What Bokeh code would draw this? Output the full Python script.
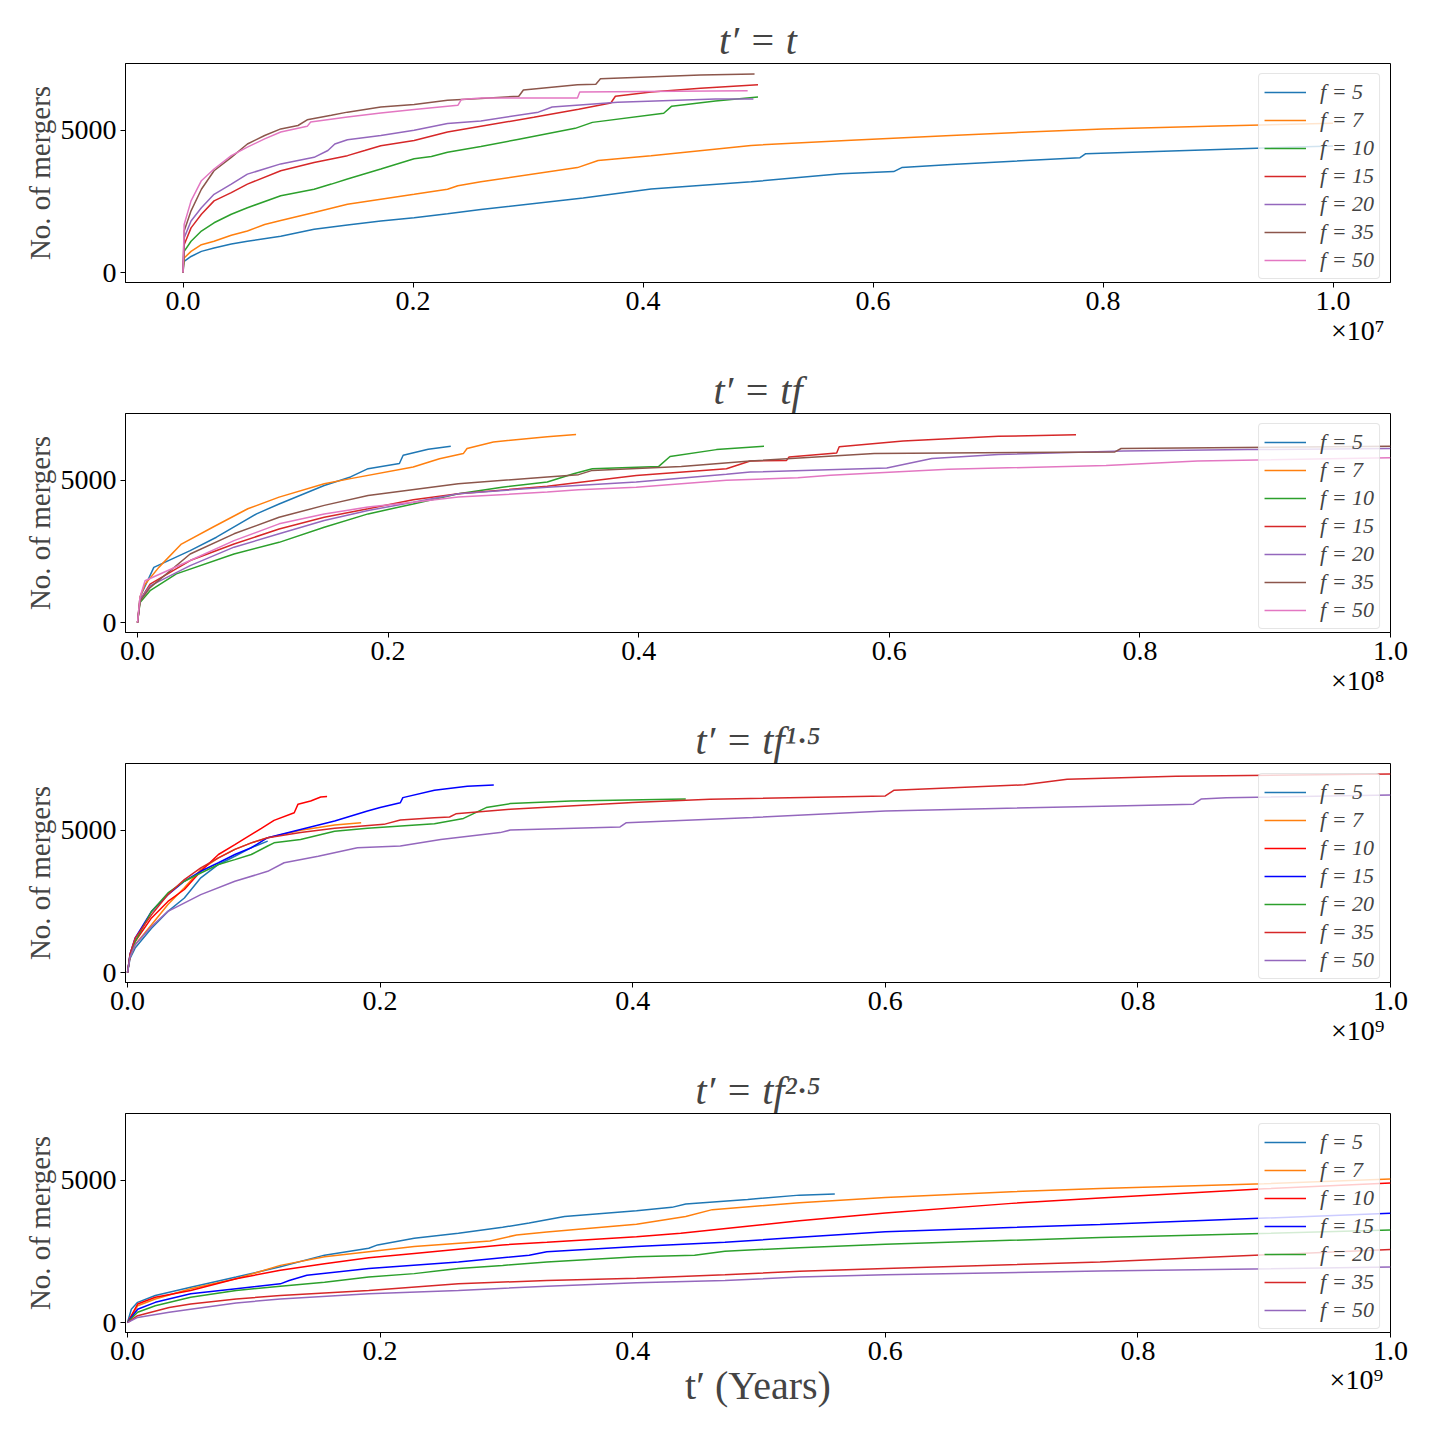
from bokeh.plotting import figure
from bokeh.layouts import column
from bokeh.models import Range1d, FixedTicker, NumeralTickFormatter, Title, LinearAxis
from bokeh.embed import file_html
from bokeh.resources import INLINE

FONT = "Liberation Serif"

F_LABELS = ["f = 5", "f = 7", "f = 10", "f = 15", "f = 20", "f = 35", "f = 50"]
TITLES = ["t\u2032 = t", "t\u2032 = tf", "t\u2032 = tf\u00b9\u00b7\u2075", "t\u2032 = tf\u00b2\u00b7\u2075"]
EXPONENTS = ["\u00d710\u2077", "\u00d710\u2078", "\u00d710\u2079", "\u00d710\u2079"]
X_LABEL = "t\u2032 (Years)"
Y_LABEL = "No. of mergers"
X_TICKS = [0.0, 0.2, 0.4, 0.6, 0.8, 1.0]
Y_TICKS = [0, 5000]
X_LO = [-0.05, -0.0096, -0.0016, -0.0016]
X_HI = [1.05, 1.0, 1.0, 1.0]

COLORS_A = ["#1f77b4", "#ff7f0e", "#2ca02c", "#d62728", "#9467bd", "#8c564b", "#e377c2"]
COLORS_B = ["#1f77b4", "#ff7f0e", "#ff0000", "#0000ff", "#2ca02c", "#d62728", "#9467bd"]

# Panel 1: t' = t   (x in units of 1e7 years)
P1_X = [
    [0, 0.001, 0.007, 0.016, 0.027, 0.042, 0.056, 0.085, 0.114, 0.143, 0.172, 0.201, 0.230, 0.259, 0.348, 0.407, 0.494, 0.572, 0.618, 0.625, 0.668, 0.78, 0.785, 0.9, 1.0],
    [0, 0.001, 0.007, 0.016, 0.027, 0.042, 0.056, 0.071, 0.085, 0.114, 0.143, 0.172, 0.201, 0.230, 0.239, 0.259, 0.343, 0.361, 0.407, 0.494, 0.581, 0.668, 0.74, 0.8, 0.9, 1.0],
    [0, 0.001, 0.007, 0.016, 0.027, 0.042, 0.056, 0.085, 0.114, 0.129, 0.143, 0.172, 0.201, 0.216, 0.230, 0.259, 0.291, 0.341, 0.356, 0.418, 0.425, 0.463, 0.5],
    [0, 0.001, 0.007, 0.016, 0.027, 0.042, 0.056, 0.085, 0.114, 0.143, 0.158, 0.172, 0.201, 0.230, 0.259, 0.305, 0.344, 0.372, 0.376, 0.407, 0.45, 0.5],
    [0, 0.001, 0.007, 0.016, 0.027, 0.042, 0.056, 0.085, 0.114, 0.126, 0.132, 0.143, 0.172, 0.201, 0.230, 0.259, 0.309, 0.321, 0.378, 0.463, 0.496],
    [0, 0.001, 0.007, 0.016, 0.027, 0.042, 0.056, 0.071, 0.085, 0.100, 0.108, 0.129, 0.143, 0.172, 0.201, 0.230, 0.259, 0.292, 0.296, 0.343, 0.359, 0.363, 0.45, 0.497],
    [0, 0.001, 0.007, 0.016, 0.027, 0.042, 0.056, 0.071, 0.085, 0.108, 0.111, 0.143, 0.172, 0.201, 0.239, 0.242, 0.259, 0.343, 0.345, 0.459, 0.491],
]
P1_Y = [
    [0, 390, 565, 745, 860, 1000, 1100, 1280, 1520, 1670, 1810, 1930, 2070, 2220, 2620, 2940, 3190, 3470, 3550, 3690, 3800, 4040, 4180, 4330, 4450],
    [0, 510, 745, 980, 1100, 1310, 1460, 1690, 1830, 2110, 2400, 2580, 2750, 2930, 3050, 3190, 3690, 3940, 4110, 4470, 4650, 4820, 4950, 5050, 5150, 5250],
    [0, 745, 1100, 1460, 1750, 2050, 2280, 2700, 2930, 3110, 3290, 3640, 4000, 4080, 4230, 4430, 4680, 5070, 5280, 5600, 5850, 6030, 6170],
    [0, 980, 1570, 2050, 2520, 2810, 3110, 3580, 3870, 4110, 4290, 4460, 4640, 4940, 5140, 5460, 5740, 5960, 6200, 6350, 6480, 6600],
    [0, 1220, 1810, 2280, 2750, 3110, 3460, 3820, 4050, 4290, 4520, 4670, 4820, 5000, 5240, 5330, 5640, 5820, 5990, 6100, 6100],
    [0, 1460, 2170, 2930, 3580, 4050, 4520, 4820, 5050, 5170, 5370, 5530, 5640, 5820, 5910, 6060, 6120, 6200, 6420, 6600, 6620, 6810, 6950, 6985],
    [0, 1690, 2520, 3230, 3640, 4110, 4410, 4700, 4940, 5140, 5290, 5470, 5610, 5730, 5880, 6080, 6140, 6140, 6350, 6380, 6390],
]

# Panel 2: t' = t f   (x in units of 1e8 years)
P2_X = [
    [0, 0.002, 0.013, 0.042, 0.063, 0.095, 0.113, 0.149, 0.170, 0.184, 0.209, 0.212, 0.232, 0.25],
    [0, 0.002, 0.006, 0.017, 0.035, 0.060, 0.088, 0.113, 0.149, 0.170, 0.220, 0.241, 0.260, 0.263, 0.284, 0.327, 0.35],
    [0, 0.002, 0.010, 0.031, 0.077, 0.113, 0.149, 0.184, 0.220, 0.256, 0.291, 0.327, 0.348, 0.363, 0.416, 0.425, 0.462, 0.5],
    [0, 0.002, 0.010, 0.042, 0.077, 0.113, 0.149, 0.184, 0.220, 0.256, 0.327, 0.398, 0.470, 0.489, 0.518, 0.52, 0.558, 0.56, 0.611, 0.687, 0.749],
    [0, 0.002, 0.010, 0.042, 0.077, 0.113, 0.149, 0.184, 0.220, 0.256, 0.327, 0.398, 0.470, 0.489, 0.598, 0.634, 0.687, 0.787, 0.886, 1.0],
    [0, 0.002, 0.010, 0.042, 0.077, 0.113, 0.149, 0.184, 0.256, 0.327, 0.352, 0.363, 0.434, 0.489, 0.588, 0.78, 0.785, 1.0],
    [0, 0.002, 0.006, 0.042, 0.077, 0.113, 0.149, 0.184, 0.220, 0.256, 0.327, 0.352, 0.398, 0.470, 0.527, 0.553, 0.647, 0.773, 0.846, 1.0],
]
P2_Y = [
    [0, 900, 1940, 2530, 3000, 3820, 4170, 4820, 5120, 5410, 5590, 5880, 6090, 6200],
    [0, 900, 1350, 1940, 2760, 3350, 4000, 4410, 4880, 5060, 5470, 5760, 5940, 6120, 6350, 6530, 6610],
    [0, 700, 1120, 1710, 2410, 2820, 3350, 3820, 4170, 4530, 4760, 4940, 5230, 5410, 5490, 5840, 6080, 6200],
    [0, 800, 1350, 2180, 2760, 3290, 3700, 4000, 4320, 4530, 4790, 5170, 5410, 5680, 5700, 5820, 5960, 6180, 6380, 6550, 6600],
    [0, 800, 1290, 2000, 2650, 3120, 3590, 3940, 4230, 4530, 4760, 4940, 5210, 5290, 5430, 5770, 5910, 6030, 6080, 6120],
    [0, 750, 1230, 2410, 3120, 3700, 4120, 4470, 4880, 5120, 5200, 5350, 5490, 5680, 5940, 6000, 6120, 6200],
    [0, 900, 1470, 2180, 2880, 3470, 3820, 4060, 4230, 4410, 4590, 4670, 4760, 5000, 5090, 5180, 5390, 5520, 5680, 5790],
]

# Panel 3: t' = t f^1.5   (x in units of 1e9 years)
P3_X = [
    [0, 0.002, 0.006, 0.019, 0.032, 0.045, 0.058, 0.072, 0.085, 0.098, 0.111],
    [0, 0.002, 0.006, 0.019, 0.032, 0.045, 0.058, 0.072, 0.085, 0.098, 0.111, 0.137, 0.164, 0.185],
    [0, 0.002, 0.006, 0.019, 0.032, 0.045, 0.058, 0.072, 0.085, 0.093, 0.106, 0.116, 0.132, 0.135, 0.145, 0.153, 0.158],
    [0, 0.002, 0.006, 0.019, 0.032, 0.045, 0.058, 0.072, 0.085, 0.098, 0.111, 0.137, 0.164, 0.19, 0.2, 0.216, 0.218, 0.243, 0.269, 0.29],
    [0, 0.002, 0.006, 0.019, 0.032, 0.045, 0.058, 0.072, 0.085, 0.098, 0.111, 0.116, 0.137, 0.164, 0.19, 0.243, 0.266, 0.284, 0.303, 0.351, 0.442],
    [0, 0.002, 0.006, 0.019, 0.032, 0.045, 0.058, 0.072, 0.085, 0.098, 0.111, 0.137, 0.164, 0.203, 0.216, 0.243, 0.255, 0.26, 0.303, 0.40, 0.461, 0.60, 0.607, 0.71, 0.744, 0.83, 1.0],
    [0, 0.002, 0.006, 0.019, 0.032, 0.058, 0.085, 0.111, 0.124, 0.151, 0.182, 0.216, 0.248, 0.295, 0.303, 0.39, 0.395, 0.495, 0.60, 0.782, 0.844, 0.85, 0.87, 1.0],
]
P3_Y = [
    [0, 500, 860, 1560, 2150, 2620, 3330, 3800, 4090, 4390, 4620],
    [0, 550, 980, 1680, 2390, 2980, 3620, 4030, 4330, 4560, 4740, 5000, 5190, 5270],
    [0, 600, 1090, 1920, 2500, 2920, 3560, 4150, 4500, 4720, 5070, 5350, 5620, 5920, 6030, 6170, 6190],
    [0, 650, 1210, 2150, 2740, 3210, 3560, 3860, 4150, 4390, 4740, 5030, 5330, 5680, 5800, 5970, 6150, 6410, 6550, 6590],
    [0, 600, 1090, 2150, 2800, 3210, 3500, 3800, 3970, 4150, 4450, 4560, 4680, 4970, 5070, 5230, 5420, 5800, 5940, 6030, 6100],
    [0, 650, 1210, 2030, 2740, 3270, 3680, 4030, 4330, 4560, 4740, 4920, 5070, 5210, 5360, 5440, 5470, 5580, 5740, 5980, 6090, 6210, 6410, 6600, 6800, 6900, 6980],
    [0, 550, 980, 1620, 2150, 2740, 3210, 3560, 3860, 4090, 4390, 4450, 4680, 4920, 5010, 5120, 5270, 5450, 5680, 5860, 5920, 6100, 6150, 6240],
]

# Panel 4: t' = t f^2.5   (x in units of 1e9 years)
P4_X = [
    [0, 0.003, 0.008, 0.022, 0.050, 0.086, 0.121, 0.156, 0.191, 0.198, 0.227, 0.262, 0.297, 0.318, 0.346, 0.403, 0.431, 0.442, 0.491, 0.532, 0.56],
    [0, 0.008, 0.022, 0.050, 0.086, 0.121, 0.156, 0.191, 0.227, 0.287, 0.308, 0.332, 0.403, 0.442, 0.463, 0.532, 0.6, 0.7, 0.77, 0.9, 1.0],
    [0, 0.008, 0.022, 0.050, 0.086, 0.121, 0.156, 0.191, 0.227, 0.297, 0.332, 0.403, 0.438, 0.487, 0.532, 0.6, 0.7, 0.77, 0.9, 1.0],
    [0, 0.008, 0.022, 0.050, 0.086, 0.121, 0.128, 0.142, 0.191, 0.262, 0.318, 0.332, 0.403, 0.473, 0.532, 0.6, 0.77, 1.0],
    [0, 0.008, 0.022, 0.050, 0.086, 0.121, 0.156, 0.191, 0.227, 0.262, 0.297, 0.332, 0.403, 0.449, 0.473, 0.532, 0.6, 0.77, 1.0],
    [0, 0.008, 0.033, 0.050, 0.086, 0.121, 0.191, 0.262, 0.332, 0.403, 0.473, 0.532, 0.6, 0.77, 1.0],
    [0, 0.008, 0.033, 0.050, 0.086, 0.121, 0.191, 0.262, 0.332, 0.403, 0.473, 0.532, 0.6, 0.77, 1.0],
]
P4_Y = [
    [0, 470, 710, 950, 1240, 1600, 1960, 2370, 2610, 2730, 2960, 3140, 3350, 3500, 3730, 3930, 4050, 4170, 4330, 4480, 4520],
    [0, 590, 830, 1190, 1540, 2010, 2310, 2490, 2670, 2870, 3080, 3180, 3460, 3730, 3970, 4210, 4400, 4600, 4710, 4880, 5050],
    [0, 650, 890, 1130, 1540, 1840, 2070, 2280, 2430, 2730, 2820, 3020, 3140, 3370, 3580, 3850, 4190, 4380, 4700, 4910],
    [0, 470, 710, 1010, 1190, 1360, 1480, 1660, 1900, 2130, 2370, 2490, 2670, 2820, 3000, 3190, 3450, 3840],
    [0, 360, 590, 890, 1130, 1280, 1420, 1600, 1720, 1900, 2010, 2130, 2310, 2370, 2510, 2630, 2750, 2990, 3250],
    [0, 240, 530, 650, 830, 950, 1130, 1360, 1480, 1560, 1680, 1800, 1900, 2130, 2570],
    [0, 180, 360, 470, 690, 830, 1010, 1130, 1280, 1400, 1480, 1600, 1680, 1810, 1950],
]

PANELS = [
    (P1_X, P1_Y, COLORS_A),
    (P2_X, P2_Y, COLORS_A),
    (P3_X, P3_Y, COLORS_B),
    (P4_X, P4_Y, COLORS_B),
]

figs = []
for i, (XS, YS, cols) in enumerate(PANELS):
    first = i == 0
    last = i == len(PANELS) - 1
    top = 63 if first else 55
    h = top + 219 + (98 if last else 76)
    p = figure(width=1432, height=h, output_backend="svg", toolbar_location=None,
               x_range=Range1d(X_LO[i], X_HI[i]), y_range=Range1d(-350, 7350),
               min_border_left=125, min_border_right=42, min_border_top=top,
               min_border_bottom=h - top - 219)
    p.title.text = TITLES[i]
    p.title.align = "center"
    p.title.text_font = FONT
    p.title.text_font_size = "40px"
    p.title.text_font_style = "italic"
    p.title.standoff = 2
    p.grid.visible = False
    p.outline_line_color = "black"
    p.outline_line_width = 1
    p.outline_line_alpha = 1
    p.background_fill_color = "white"
    p.border_fill_color = "white"

    for k in range(len(F_LABELS)):
        p.line(XS[k], YS[k], line_color=cols[k], line_width=1.5, legend_label=F_LABELS[k])

    p.xaxis.ticker = FixedTicker(ticks=X_TICKS)
    p.yaxis.ticker = FixedTicker(ticks=Y_TICKS)
    p.xaxis.formatter = NumeralTickFormatter(format="0.0")
    for ax in (p.xaxis[0], p.yaxis[0]):
        ax.major_label_text_font = FONT
        ax.major_label_text_font_size = "28px"
        ax.major_label_text_color = "black"
        ax.axis_line_color = "black"
        ax.major_tick_line_color = "black"
        ax.major_tick_in = 0
        ax.major_tick_out = 5
        ax.minor_tick_line_color = None
        ax.major_label_standoff = 4
    p.yaxis.axis_label = Y_LABEL
    p.yaxis.axis_label_text_font = FONT
    p.yaxis.axis_label_text_font_size = "29px"
    p.yaxis.axis_label_text_font_style = "normal"
    p.yaxis.axis_label_standoff = 2

    if last:
        p.xaxis.axis_label = X_LABEL
        p.xaxis.axis_label_text_font = FONT
        p.xaxis.axis_label_text_font_size = "40px"
        p.xaxis.axis_label_text_font_style = "normal"
        p.xaxis.axis_label_standoff = 0
        # scale-factor note sitting on the same row as the axis label
        xpos = X_HI[i] - 0.027
        note = LinearAxis(ticker=FixedTicker(ticks=[xpos]),
                          major_label_overrides={xpos: EXPONENTS[i]},
                          axis_line_color=None, major_tick_line_color=None,
                          major_tick_out=0, major_tick_in=0,
                          minor_tick_line_color=None,
                          major_label_standoff=-47,
                          major_label_text_font=FONT,
                          major_label_text_font_size="28px",
                          major_label_text_color="black")
        p.add_layout(note, "below")
    else:
        p.add_layout(Title(text=EXPONENTS[i], align="right", offset=6, standoff=0,
                           text_font=FONT, text_font_size="28px",
                           text_font_style="normal", text_color="black"), "below")

    lg = p.legend[0]
    lg.location = "top_right"
    lg.margin = 10
    lg.padding = 5
    lg.spacing = 2
    lg.label_text_font = FONT
    lg.label_text_font_size = "22px"
    lg.label_text_font_style = "italic"
    lg.label_height = 22
    lg.glyph_height = 22
    lg.glyph_width = 42
    lg.label_standoff = 14
    lg.border_line_color = "#cccccc"
    lg.border_line_width = 1
    lg.border_radius = 4
    lg.background_fill_alpha = 0.8
    figs.append(p)

layout = column(*figs, spacing=0)
open("out.html", "w").write(file_html(layout, INLINE))
